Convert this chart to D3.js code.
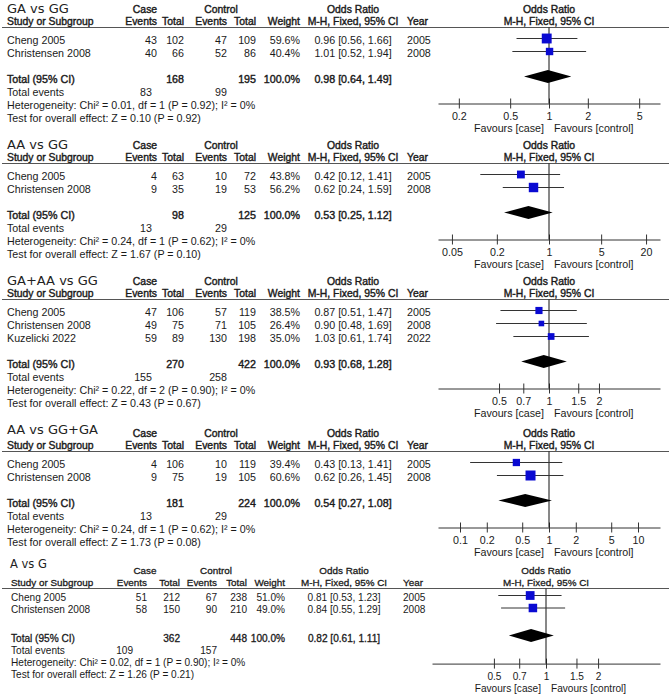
<!DOCTYPE html>
<html>

<head>
  <meta charset="utf-8">
  <title>Forest plots</title>
  <style>
    body {
      margin: 0;
      background: #fff;
    }

    svg text {
      font-family: "Liberation Sans", Arial, sans-serif;
      fill: #1a1a1a;
    }

    .title {
      font-family: "DejaVu Sans", sans-serif;
      fill: #222;
    }

    /* RevMan-style bold: regular metrics, thickened strokes */
    .bold {
      stroke: #1a1a1a;
      stroke-width: 0.45px;
    }
  </style>
</head>

<body>
  <svg width="669" height="697"></svg>

  <script src="https://d3js.org/d3.v7.min.js"></script>
  <script>
    // Data, one entry per panel
    var panelTitles = ["GA vs GG", "AA vs GG", "GA+AA vs GG", "AA vs GG+GA", "A vs G"];
    var studies = [
      ["Cheng 2005", "Christensen 2008"],
      ["Cheng 2005", "Christensen 2008"],
      ["Cheng 2005", "Christensen 2008", "Kuzelicki 2022"],
      ["Cheng 2005", "Christensen 2008"],
      ["Cheng 2005", "Christensen 2008"]
    ];
    var years = [[2005, 2008], [2005, 2008], [2005, 2008, 2022], [2005, 2008], [2005, 2008]];
    var caseEvents = [[43, 40], [4, 9], [47, 49, 59], [4, 9], [51, 58]];
    var caseTotals = [[102, 66], [63, 35], [106, 75, 89], [106, 75], [212, 150]];
    var ctrlEvents = [[47, 52], [10, 19], [57, 71, 130], [10, 19], [67, 90]];
    var ctrlTotals = [[109, 86], [72, 53], [119, 105, 198], [119, 105], [238, 210]];
    var weights = [[59.6, 40.4], [43.8, 56.2], [38.5, 26.4, 35.0], [39.4, 60.6], [51.0, 49.0]];
    var oddsRatios = [[0.96, 1.01], [0.42, 0.62], [0.87, 0.90, 1.03], [0.43, 0.62], [0.81, 0.84]];
    var ciLower = [[0.56, 0.52], [0.12, 0.24], [0.51, 0.48, 0.61], [0.13, 0.26], [0.53, 0.55]];
    var ciUpper = [[1.66, 1.94], [1.41, 1.59], [1.47, 1.69, 1.74], [1.41, 1.45], [1.23, 1.29]];

    var pooledOR = [0.98, 0.53, 0.93, 0.54, 0.82];
    var pooledLower = [0.64, 0.25, 0.68, 0.27, 0.61];
    var pooledUpper = [1.49, 1.12, 1.28, 1.08, 1.11];
    var totalCase = [168, 98, 270, 181, 362];
    var totalCtrl = [195, 125, 422, 224, 448];
    var totalCaseEvents = [83, 13, 155, 13, 109];
    var totalCtrlEvents = [99, 29, 258, 29, 157];
    var heterogeneity = [
      "Heterogeneity: Chi² = 0.01, df = 1 (P = 0.92); I² = 0%",
      "Heterogeneity: Chi² = 0.24, df = 1 (P = 0.62); I² = 0%",
      "Heterogeneity: Chi² = 0.22, df = 2 (P = 0.90); I² = 0%",
      "Heterogeneity: Chi² = 0.24, df = 1 (P = 0.62); I² = 0%",
      "Heterogeneity: Chi² = 0.02, df = 1 (P = 0.90); I² = 0%"
    ];
    var overallEffect = [
      "Test for overall effect: Z = 0.10 (P = 0.92)",
      "Test for overall effect: Z = 1.67 (P = 0.10)",
      "Test for overall effect: Z = 0.43 (P = 0.67)",
      "Test for overall effect: Z = 1.73 (P = 0.08)",
      "Test for overall effect: Z = 1.26 (P = 0.21)"
    ];
    var tickValues = [
      [0.2, 0.5, 1, 2, 5],
      [0.05, 0.2, 1, 5, 20],
      [0.5, 0.7, 1, 1.5, 2],
      [0.1, 0.2, 0.5, 1, 2, 5, 10],
      [0.5, 0.7, 1, 1.5, 2]
    ];

    // Layout: two column sets (the last panel is a slightly smaller export)
    var wide = {
      fs: 10.7, hfs: 10.4, boldStroke: 0.4, titleSize: 13, titleX: 7,
      study: 7, caseEv: 157, caseTot: 184, ctrlEv: 227, ctrlTot: 256, weight: 300,
      orMid: 353, year: 407, caseTotEv: 152, caseHdr: 145, ctrlHdr: 221,
      rowStart: 12, pitch: 13, totalGap: 26, footPitch: 13, axisDy: -1,
      axisX0: 438, axisX1: 660, plotMid: 549, hdr1: -14.5, hdr2: -2.5
    };
    var narrow = {
      fs: 10.1, hfs: 9.9, boldStroke: 0.3, titleSize: 11.5, titleX: 10,
      study: 11, caseEv: 147, caseTot: 180, ctrlEv: 217, ctrlTot: 247, weight: 285,
      orMid: 344, year: 403, caseTotEv: 133, caseHdr: 145, ctrlHdr: 216,
      rowStart: 8, pitch: 12.5, totalGap: 28.5, footPitch: 12.3, axisDy: 1.5,
      axisX0: 432, axisX1: 660, plotMid: 546, hdr1: -15, hdr2: -3
    };
    // per panel: y of the header rule, title baseline, pixels per decade on the log axis
    var panels = [
      { lineY: 27.5, titleY: 12.5, decade: 129, cols: wide },
      { lineY: 163.5, titleY: 148.5, decade: 74.6, cols: wide },
      { lineY: 299.5, titleY: 284.5, decade: 166, cols: wide },
      { lineY: 451.5, titleY: 433.5, decade: 89, cols: wide },
      { lineY: 588.5, titleY: 568, decade: 173, cols: narrow }
    ];

    var svg = d3.select("svg");

    // square side follows the study weight
    var sizeScale = d3.scaleLinear().domain([26.4, 60.6]).range([5.6, 10]);

    function ciText(or, lo, hi) {
      return or.toFixed(2) + " [" + lo.toFixed(2) + ", " + hi.toFixed(2) + "]";
    }

    panels.forEach(function (lay, p) {
      var c = lay.cols;
      var L = lay.lineY;
      var g = svg.append("g").attr("font-size", c.fs);
      var n = studies[p].length;

      function txt(x, y, s, anchor, bold, size) {
        return g.append("text")
          .attr("x", x).attr("y", y)
          .attr("text-anchor", anchor || "start")
          .attr("class", bold ? "bold" : null)
          .attr("font-size", size || null)
          .style("stroke-width", bold ? c.boldStroke + "px" : null)
          .text(s);
      }

      // title
      g.append("text").attr("class", "title")
        .attr("x", c.titleX).attr("y", lay.titleY)
        .attr("font-size", c.titleSize)
        .text(panelTitles[p]);

      // headers
      var h1 = L + c.hdr1, h2 = L + c.hdr2;
      txt(c.caseHdr, h1, "Case", "middle", true, c.hfs);
      txt(c.ctrlHdr, h1, "Control", "middle", true, c.hfs);
      txt(c.orMid, h1, "Odds Ratio", "middle", true, c.hfs);
      txt(c.plotMid, h1, "Odds Ratio", "middle", true, c.hfs);
      txt(c.study, h2, "Study or Subgroup", "start", true, c.hfs);
      txt(c.caseEv, h2, "Events", "end", true, c.hfs);
      txt(c.caseTot, h2, "Total", "end", true, c.hfs);
      txt(c.ctrlEv, h2, "Events", "end", true, c.hfs);
      txt(c.ctrlTot, h2, "Total", "end", true, c.hfs);
      txt(c.weight, h2, "Weight", "end", true, c.hfs);
      txt(c.orMid, h2, "M-H, Fixed, 95% CI", "middle", true, c.hfs);
      txt(c.year, h2, "Year", "start", true, c.hfs);
      txt(c.plotMid, h2, "M-H, Fixed, 95% CI", "middle", true, c.hfs);

      g.append("line")
        .attr("x1", 2).attr("x2", 669)
        .attr("y1", L).attr("y2", L)
        .attr("stroke", "#555").attr("stroke-width", 1);

      // rows
      var rowY = function (i) { return L + c.rowStart + c.pitch * i; };
      var yT = rowY(n - 1) + c.totalGap;
      var yE = yT + c.footPitch, yH = yT + 2 * c.footPitch, yZ = yT + 3 * c.footPitch;
      var axisY = yH + c.axisDy;

      studies[p].forEach(function (s, i) {
        var b = rowY(i) + 4;
        txt(c.study, b, s);
        txt(c.caseEv, b, caseEvents[p][i], "end");
        txt(c.caseTot, b, caseTotals[p][i], "end");
        txt(c.ctrlEv, b, ctrlEvents[p][i], "end");
        txt(c.ctrlTot, b, ctrlTotals[p][i], "end");
        txt(c.weight, b, weights[p][i].toFixed(1) + "%", "end");
        txt(c.orMid, b, ciText(oddsRatios[p][i], ciLower[p][i], ciUpper[p][i]), "middle");
        txt(c.year, b, years[p][i]);
      });

      txt(c.study, yT + 4, "Total (95% CI)", "start", true);
      txt(c.caseTot, yT + 4, totalCase[p], "end", true);
      txt(c.ctrlTot, yT + 4, totalCtrl[p], "end", true);
      txt(c.weight, yT + 4, "100.0%", "end", true);
      txt(c.orMid, yT + 4, ciText(pooledOR[p], pooledLower[p], pooledUpper[p]), "middle", true);
      txt(c.study, yE + 4, "Total events");
      txt(c.caseTotEv, yE + 4, totalCaseEvents[p], "end");
      txt(c.ctrlEv, yE + 4, totalCtrlEvents[p], "end");
      txt(c.study, yH + 4, heterogeneity[p]);
      txt(c.study, yZ + 4, overallEffect[p]);

      // log scale for the forest plot, centred on OR = 1
      var lo = Math.pow(10, (c.axisX0 - c.plotMid) / lay.decade);
      var hi = Math.pow(10, (c.axisX1 - c.plotMid) / lay.decade);
      var x = d3.scaleLog().domain([lo, hi]).range([c.axisX0, c.axisX1]);

      var axis = g.append("g")
        .attr("transform", "translate(0," + axisY + ")")
        .call(d3.axisBottom(x)
          .tickValues(tickValues[p])
          .tickSizeInner(5).tickSizeOuter(0).tickPadding(4)
          .tickFormat(function (d) { return String(d); }))
        .attr("font-size", null).attr("font-family", null);
      axis.select(".domain").attr("stroke", "#333");
      axis.selectAll(".tick line").attr("y1", -5).attr("y2", 5).attr("stroke", "#333");
      axis.selectAll(".tick text").attr("fill", "#1a1a1a");

      // line of no effect
      g.append("line")
        .attr("x1", x(1)).attr("x2", x(1))
        .attr("y1", L).attr("y2", axisY)
        .attr("stroke", "#111").attr("stroke-width", 1);

      txt(x(1) - 5, axisY + 28, "Favours [case]", "end");
      txt(x(1) + 5, axisY + 28, "Favours [control]", "start");

      // study CIs and squares
      var rows = studies[p].map(function (s, i) {
        return { or: oddsRatios[p][i], lo: ciLower[p][i], hi: ciUpper[p][i], w: weights[p][i], y: rowY(i) - 1 };
      });
      g.selectAll(".ci").data(rows).enter().append("line")
        .attr("x1", function (d) { return x(d.lo); })
        .attr("x2", function (d) { return x(d.hi); })
        .attr("y1", function (d) { return d.y; })
        .attr("y2", function (d) { return d.y; })
        .attr("stroke", "#333").attr("stroke-width", 1);
      g.selectAll(".sq").data(rows).enter().append("rect")
        .attr("x", function (d) { return x(d.or) - sizeScale(d.w) / 2; })
        .attr("y", function (d) { return d.y - sizeScale(d.w) / 2; })
        .attr("width", function (d) { return sizeScale(d.w); })
        .attr("height", function (d) { return sizeScale(d.w); })
        .attr("fill", "#0a0ad2");

      // pooled diamond
      var yD = yT - 2;
      g.append("polygon")
        .attr("points", [
          [x(pooledLower[p]), yD],
          [x(pooledOR[p]), yD - 6.5],
          [x(pooledUpper[p]), yD],
          [x(pooledOR[p]), yD + 6.5]
        ].join(" "))
        .attr("fill", "#000");
    });
  </script>
</body>

</html>
